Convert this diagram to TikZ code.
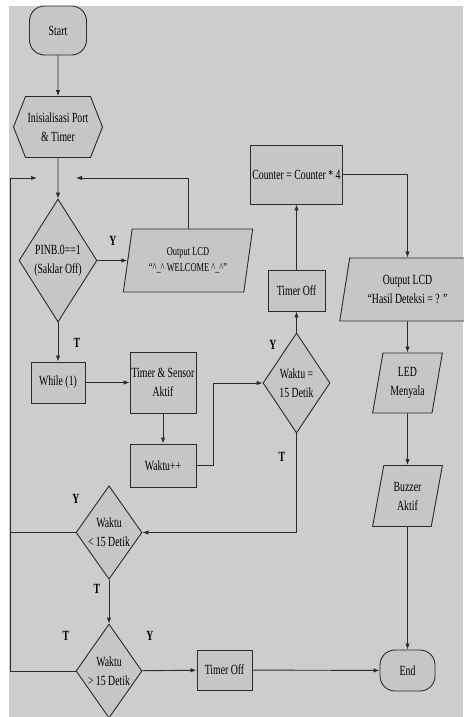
\documentclass[tikz,border=0pt]{standalone}
\usepackage{fontspec}
\setmainfont{Liberation Serif}[FakeStretch=0.7]
\usetikzlibrary{shapes.geometric, shapes.symbols, arrows.meta}
\definecolor{bggray}{HTML}{CDCDCD}
\definecolor{nodegray}{HTML}{C6C6C6}
\definecolor{linegray}{HTML}{2B2B2B}

\begin{document}
\begin{tikzpicture}[x=1pt, y=-1pt,
    shapebox/.style={draw=linegray, fill=nodegray, line width=0.9pt, align=center, inner sep=1pt, font=\fontsize{14}{19}\selectfont},
    terminal/.style={shapebox, rectangle, rounded corners=15pt},
    prep/.style={shapebox, signal, signal to=west and east, signal pointer angle=137},
    decision/.style={shapebox, diamond, aspect=0.65, inner sep=0pt},
    io/.style={shapebox, trapezium, trapezium left angle=77, trapezium right angle=103, trapezium stretches=true},
    process/.style={shapebox, rectangle},
    lbl/.style={font=\fontsize{14}{16}\selectfont\bfseries, inner sep=0pt},
    arr/.style={draw=linegray, line width=0.9pt, -{Latex[length=6pt, width=4.5pt]}},
    wire/.style={draw=linegray, line width=0.9pt}]
        \useasboundingbox (0,0) rectangle (463,717);
        \fill[bggray] (9,6) rectangle (463,717);

        % Draw nodes
        \node[terminal, minimum width=57pt, minimum height=49pt] (start) at (58,30.5) {Start};
        \node[prep, minimum width=89pt, minimum height=61pt] (init) at (58,127) {Inisialisasi Port\\\& Timer};
        \node[decision, minimum width=78pt, minimum height=123pt] (pinb) at (58,260.5) {PINB.0==1\\(Saklar Off)};
        \node[io, minimum width=130pt, minimum height=63pt, font=\fontsize{12}{16}\selectfont] (lcdA) at (188,260.5) {Output LCD\\``\textasciicircum\_\textasciicircum{} WELCOME \textasciicircum\_\textasciicircum''};
        \node[process, minimum width=54pt, minimum height=41pt] (while) at (58,382.5) {While (1)};
        \node[process, minimum width=66pt, minimum height=61pt] (sensor) at (163,382.5) {Timer \& Sensor\\Aktif};
        \node[process, minimum width=66pt, minimum height=43pt] (waktu) at (163,465.5) {Waktu++};
        \node[decision, minimum width=67pt, minimum height=100pt] (cek15) at (296.5,383) {Waktu =\\15 Detik};
        \node[process, minimum width=57pt, minimum height=41pt] (offA) at (296.5,290.5) {Timer Off};
        \node[process, minimum width=92pt, minimum height=59pt] (counter) at (296.5,174.5) {Counter = Counter * 4};
        \node[io, minimum width=136pt, minimum height=63pt] (lcdB) at (407.5,289.5) {Output LCD\\``Hasil Deteksi = ? ''};
        \node[io, minimum width=70pt, minimum height=60pt] (led) at (407.5,383) {LED\\Menyala};
        \node[io, minimum width=70pt, minimum height=61pt] (buzzer) at (407.5,496) {Buzzer\\Aktif};
        \node[terminal, minimum width=55pt, minimum height=41pt] (end) at (407.5,670.5) {End};
        \node[decision, minimum width=66pt, minimum height=90pt] (kurang) at (109,532.5) {Waktu\\< 15 Detik};
        \node[decision, minimum width=66pt, minimum height=94pt] (lebih) at (109,671) {Waktu\\> 15 Detik};
        \node[process, minimum width=55pt, minimum height=40pt] (offB) at (224.5,670) {Timer Off};

        % Loop points
        \coordinate (joinL) at (37,178);
        \coordinate (joinR) at (76,178);
        \coordinate (rail) at (10,178);

        % Draw labels
        \node[lbl] (yPinb) at (113,241) {Y};
        \node[lbl] (tPinb) at (77,343) {T};
        \node[lbl] (yCek) at (273,345) {Y};
        \node[lbl] (tCek) at (282,457) {T};
        \node[lbl] (yKurang) at (76,499) {Y};
        \node[lbl] (tKurang) at (97,589) {T};
        \node[lbl] (tLebih) at (66,636) {T};
        \node[lbl] (yLebih) at (150,636) {Y};

        % Draw connections
        \draw[arr] (start) -- (init);
        \draw[arr] (init) -- (pinb);
        \draw[arr] (pinb) -- (lcdA);
        \draw[arr] (lcdA.north) |- (joinR);
        \draw[arr] (pinb) -- (while);
        \draw[arr] (while) -- (sensor);
        \draw[arr] (sensor) -- (waktu);
        \draw[arr] (waktu.east) -- ++(17,0) |- (cek15.west);
        \draw[arr] (cek15) -- (offA);
        \draw[arr] (offA) -- (counter);
        \draw[arr] (counter.east) -| (lcdB.north);
        \draw[arr] (lcdB) -- (led);
        \draw[arr] (led) -- (buzzer);
        \draw[arr] (buzzer) -- (end);
        \draw[arr] (cek15.south) |- (kurang.east);
        \draw[arr] (kurang.west) -| (rail) -- (joinL);
        \draw[arr] (kurang) -- (lebih);
        \draw[wire] (lebih.west) -| (kurang.west -| rail);
        \draw[arr] (lebih) -- (offB);
        \draw[arr] (offB) -- (end);
    \end{tikzpicture}
\end{document}
